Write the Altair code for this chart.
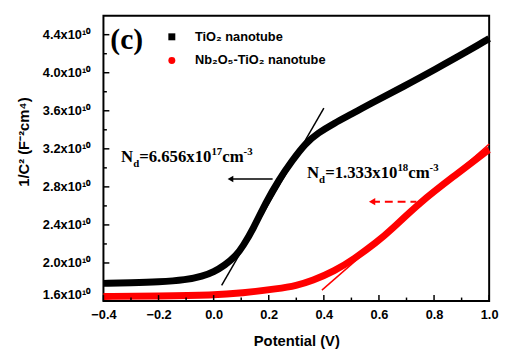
import altair as alt
import pandas as pd

# ---- data ----
series_names = ["TiO₂ nanotube", "Nb₂O₅-TiO₂ nanotube"]
series_colors = ["#000000", "#ff0000"]
series_shapes = ["square", "circle"]

black_x = [-0.40, -0.30, -0.20, -0.10, -0.04, 0.00, 0.04, 0.082, 0.107, 0.143, 0.189, 0.236,
           0.286, 0.332, 0.379, 0.439, 0.500, 0.575, 0.689, 0.807, 0.929, 1.00]
black_y = [1.786, 1.792, 1.800, 1.822, 1.860, 1.905, 1.975, 2.076, 2.179, 2.355, 2.634, 2.872,
           3.079, 3.255, 3.368, 3.472, 3.565, 3.684, 3.854, 4.040, 4.237, 4.360]

red_x = [-0.40, -0.20, 0.00, 0.10, 0.236, 0.300, 0.357, 0.439, 0.511, 0.593, 0.643, 0.750,
         0.868, 0.993, 1.00]
red_y = [1.648, 1.652, 1.662, 1.682, 1.730, 1.762, 1.812, 1.915, 2.045, 2.220, 2.345, 2.640,
         2.903, 3.180, 3.190]

x_major = [-0.4, -0.2, 0.0, 0.2, 0.4, 0.6, 0.8, 1.0]
x_minor = [-0.3, -0.1, 0.1, 0.3, 0.5, 0.7, 0.9]
y_major = [1.6, 2.0, 2.4, 2.8, 3.2, 3.6, 4.0, 4.4]
y_minor = [1.8, 2.2, 2.6, 3.0, 3.4, 3.8, 4.2]

fit_black_x = [0.029, 0.400]
fit_black_y = [1.765, 3.627]
fit_red_x = [0.393, 1.000]
fit_red_y = [1.714, 3.250]

arrow_black_x = [0.214, 0.061]
arrow_black_y = [2.882, 2.882]
arrow_red_x = [0.736, 0.575]
arrow_red_y = [2.644, 2.644]

ann1_x, ann1_y = -0.336, 3.058
ann1_parts = ["N", "d", "=6.656x10", "17", "cm", "-3"]
ann2_x, ann2_y = 0.339, 2.893
ann2_parts = ["N", "d", "=1.333x10", "18", "cm", "-3"]
ann_roles = ["main", "sub", "main", "sup", "main", "sup"]

panel_x, panel_y, panel_label = -0.375, 4.247, "(c)"

# ---- scales / axes ----
xs = alt.Scale(domain=[-0.4, 1.0], nice=False, zero=False)
ys = alt.Scale(domain=[1.6, 4.6], nice=False, zero=False)
SANS = "Liberation Sans"
SERIF = "Liberation Serif"

xaxis = alt.Axis(values=x_major, format=".1f", ticks=False, tickSize=0, domain=False, grid=False,
                 labelFont=SANS, labelFontWeight="bold", labelFontSize=13, labelColor="black",
                 labelPadding=8, labelFlush=False, title="Potential (V)", titleFont=SANS,
                 titleFontWeight="bold", titleFontSize=15, titleColor="black", titlePadding=12)
yaxis = alt.Axis(values=y_major, labelExpr="format(datum.value, '.1f') + 'x10¹⁰'", ticks=False,
                 tickSize=0, domain=False, grid=False, labelFont=SANS, labelFontWeight="bold",
                 labelFontSize=13, labelColor="black", labelPadding=14, labelFlush=True,
                 title="1/C² (F⁻²cm⁴)", titleFont=SANS, titleFontWeight="bold", titleFontSize=15,
                 titleColor="black", titleX=-73, titleY=128)

X = lambda: alt.X("x:Q", scale=xs, axis=xaxis)
Y = lambda: alt.Y("y:Q", scale=ys, axis=yaxis)

curves = pd.DataFrame({
    "x": black_x + red_x,
    "y": black_y + red_y,
    "series": [series_names[0]] * len(black_x) + [series_names[1]] * len(red_x),
})

color = alt.Color("series:N", scale=alt.Scale(domain=series_names, range=series_colors),
                  legend=alt.Legend(title=None, orient="none", legendX=63, legendY=15,
                                    symbolSize=50, labelFont=SANS, labelFontWeight="bold",
                                    labelFontSize=13, labelColor="black", labelOffset=17,
                                    rowPadding=10, padding=0, symbolStrokeWidth=0))
shape = alt.Shape("series:N", scale=alt.Scale(domain=series_names, range=series_shapes))

points = alt.Chart(curves).mark_point(filled=True, size=6, opacity=0.01).encode(
    x=X(), y=Y(), color=color, shape=shape)

lines = alt.Chart(curves).mark_line(strokeWidth=7, interpolate="basis").encode(
    x=X(), y=Y(),
    color=alt.Color("series:N", scale=alt.Scale(domain=series_names, range=series_colors), legend=None),
    detail="series:N")

fitb = alt.Chart(pd.DataFrame({"x": fit_black_x, "y": fit_black_y})).mark_line(
    color="black", strokeWidth=1.5).encode(x=X(), y=Y())
fitr = alt.Chart(pd.DataFrame({"x": fit_red_x, "y": fit_red_y})).mark_line(
    color="red", strokeWidth=1.5).encode(x=X(), y=Y())

arb = alt.Chart(pd.DataFrame({"x": arrow_black_x, "y": arrow_black_y})).mark_line(
    color="black", strokeWidth=1.5).encode(x=X(), y=Y())
arb_head = alt.Chart(pd.DataFrame({"x": arrow_black_x[-1:], "y": arrow_black_y[-1:]})).mark_point(
    shape="triangle-left", filled=True, color="black", size=45, opacity=1).encode(x=X(), y=Y())
arr = alt.Chart(pd.DataFrame({"x": arrow_red_x, "y": arrow_red_y})).mark_line(
    color="red", strokeWidth=2, strokeDash=[8, 5]).encode(x=X(), y=Y())
arr_head = alt.Chart(pd.DataFrame({"x": arrow_red_x[-1:], "y": arrow_red_y[-1:]})).mark_point(
    shape="triangle-left", filled=True, color="red", size=55, opacity=1).encode(x=X(), y=Y())

# inward ticks
H, W_ = 290, 392
xt_major = alt.Chart(pd.DataFrame({"x": x_major})).mark_rule(color="black", strokeWidth=1.5).encode(
    x=X(), y=alt.value(H), y2=alt.value(H - 6))
xt_minor = alt.Chart(pd.DataFrame({"x": x_minor})).mark_rule(color="black", strokeWidth=1.5).encode(
    x=X(), y=alt.value(H), y2=alt.value(H - 3.5))
yt_major = alt.Chart(pd.DataFrame({"y": y_major})).mark_rule(color="black", strokeWidth=1.5).encode(
    y=Y(), x=alt.value(0), x2=alt.value(6))
yt_minor = alt.Chart(pd.DataFrame({"y": y_minor})).mark_rule(color="black", strokeWidth=1.5).encode(
    y=Y(), x=alt.value(0), x2=alt.value(3.5))

# annotation pieces (Times-metric widths)
TW = {"N": 0.722, "d": 0.556, "=": 0.570, ".": 0.25, "x": 0.5, "c": 0.444, "m": 0.833, "-": 0.333}
MAIN, SMALL = 17, 11
def piece_layers(ax, ay, parts, roles):
    layers = []
    dx = 0.0
    for txt, role in zip(parts, roles):
        size = MAIN if role == "main" else SMALL
        dy = 0 if role == "main" else (5 if role == "sub" else -7)
        layers.append(alt.Chart(pd.DataFrame({"x": [ax], "y": [ay], "t": [txt]})).mark_text(
            font=SERIF, fontWeight="bold", fontSize=size, align="left", baseline="alphabetic",
            dx=dx, dy=dy, color="black").encode(x=X(), y=Y(), text="t:N"))
        dx += sum(TW.get(ch, 0.5) for ch in txt) * size
    return layers

texts = piece_layers(ann1_x, ann1_y, ann1_parts, ann_roles) + \
        piece_layers(ann2_x, ann2_y, ann2_parts, ann_roles)

panel = alt.Chart(pd.DataFrame({"x": [panel_x], "y": [panel_y], "t": [panel_label]})).mark_text(
    font=SERIF, fontWeight="bold", fontSize=30, align="left", baseline="alphabetic",
    color="black").encode(x=X(), y=Y(), text="t:N")

chart = alt.layer(
    points, lines, fitb, fitr, arb, arb_head, arr, arr_head,
    xt_major, xt_minor, yt_major, yt_minor, panel, *texts
).properties(
    width=W_, height=H,
    autosize=alt.AutoSizeParams(type="none"),
    padding={"left": 97, "top": 5, "right": 10, "bottom": 47},
    background="white",
).configure_view(stroke="black", strokeWidth=2).configure_legend(symbolOpacity=1)

chart.save("out.html", embed_options={"renderer": "svg", "actions": False})
